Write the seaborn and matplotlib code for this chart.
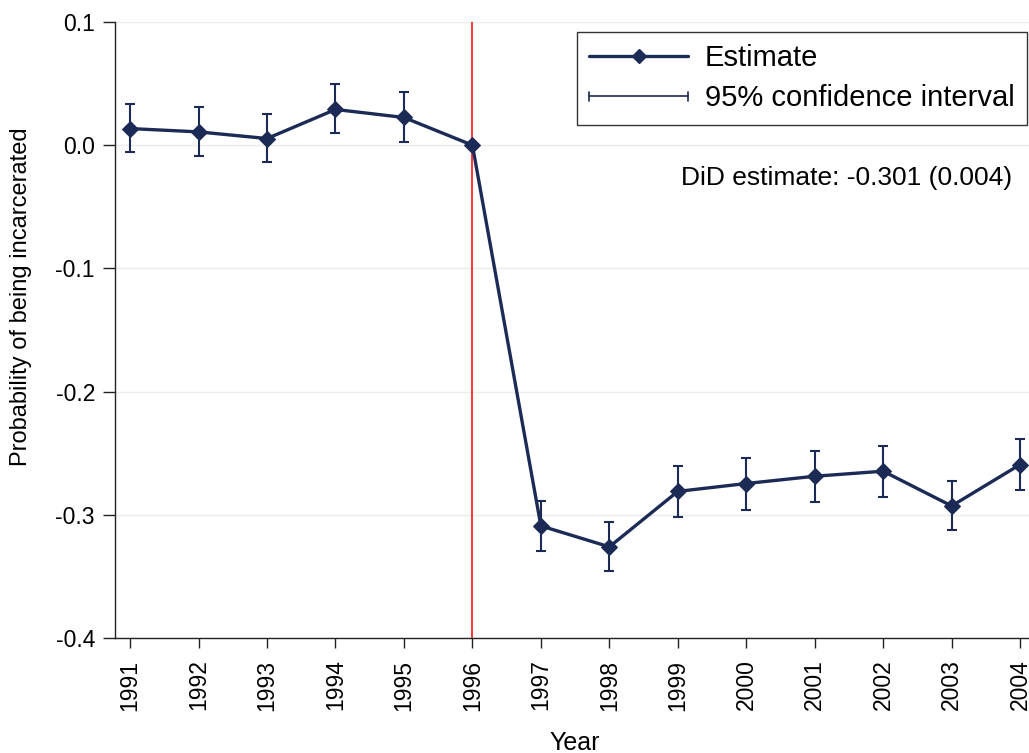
import matplotlib
matplotlib.use("Agg")
import matplotlib.pyplot as plt
import seaborn as sns
import pandas as pd
import numpy as np
from matplotlib.lines import Line2D
from matplotlib.legend_handler import HandlerBase

years = [1991, 1992, 1993, 1994, 1995, 1996, 1997, 1998, 1999, 2000, 2001, 2002, 2003, 2004]
estimate = [0.0135, 0.0108, 0.0054, 0.029, 0.0225, 0.0, -0.309, -0.326, -0.281, -0.2746, -0.2687, -0.2646, -0.2928, -0.2592]
ci_upper = [0.0333, 0.0306, 0.0252, 0.0495, 0.0428, 0.0, -0.289, -0.306, -0.260, -0.2538, -0.2484, -0.2443, -0.2725, -0.2386]
ci_lower = [-0.0057, -0.0084, -0.0135, 0.0097, 0.0027, 0.0, -0.3293, -0.346, -0.3014, -0.2957, -0.2895, -0.2852, -0.3125, -0.2795]
y_ticks = [0.1, 0.0, -0.1, -0.2, -0.3, -0.4]
y_ticklabels = ["0.1", "0.0", "-0.1", "-0.2", "-0.3", "-0.4"]
event_year = 1996
did_text = "DiD estimate: -0.301 (0.004)"

navy = "#1c2b55"

sns.set_theme(style="white")
plt.rcParams['font.family'] = ['Liberation Sans', 'DejaVu Sans']
plt.rcParams['text.color'] = 'black'
plt.rcParams['axes.labelcolor'] = 'black'
plt.rcParams['xtick.color'] = 'black'
plt.rcParams['ytick.color'] = 'black'

df = pd.DataFrame({"Year": years, "Estimate": estimate, "lo": ci_lower, "hi": ci_upper})

fig = plt.figure(figsize=(10.29, 7.53), dpi=100)
ax = fig.add_axes([0.1118, 0.1527, 0.8882, 0.8181])

for yv in y_ticks:
    ax.axhline(yv, color="#ebebeb", lw=1.0, zorder=0)

ax.axvline(event_year, color="red", lw=1.1, zorder=1)

est = df["Estimate"].to_numpy()
yerr = np.vstack([est - df["lo"].to_numpy(), df["hi"].to_numpy() - est])
ax.errorbar(df["Year"], est, yerr=yerr, fmt="none", ecolor=navy, elinewidth=1.5,
            capsize=3.4, capthick=1.5, zorder=2)
sns.lineplot(data=df, x="Year", y="Estimate", ax=ax, color=navy, lw=2.4,
             marker="D", markersize=8, markeredgecolor=navy, zorder=3)

ax.set_xlim(1990.78, 2004.13)
ax.set_ylim(-0.4, 0.1)
ax.set_xticks(years)
ax.set_xticklabels([str(y) for y in years], rotation=90, fontsize=16.5)
ax.set_yticks(y_ticks)
ax.set_yticklabels(y_ticklabels, fontsize=16.5)
ax.tick_params(axis="x", direction="out", length=7.5, width=1.0, color="#222222", pad=8, bottom=True)
ax.tick_params(axis="y", direction="out", length=8.5, width=1.0, color="#222222", pad=6, left=True)
for s in ["top", "right"]:
    ax.spines[s].set_visible(False)
for s in ["left", "bottom"]:
    ax.spines[s].set_color("#222222")
    ax.spines[s].set_linewidth(1.0)

ax.set_xlabel("Year", fontsize=18, va="baseline")
ax.xaxis.set_label_coords(0.5025, -0.1818)
ax.set_ylabel("Probability of being incarcerated", fontsize=17, va="center")
ax.yaxis.set_label_coords(-0.1028, 0.5536)

ax.text(0.9814, 0.7468, did_text, transform=ax.transAxes,
        ha="right", va="center", fontsize=19)


class CIHandler(HandlerBase):
    def create_artists(self, legend, orig_handle, xdescent, ydescent, width, height, fontsize, trans):
        y = height / 2 - ydescent
        x0, x1 = -xdescent, -xdescent + width
        h = height * 0.22
        line = Line2D([x0, x1], [y, y], color=navy, lw=1.2, transform=trans)
        c1 = Line2D([x0, x0], [y - h, y + h], color=navy, lw=1.2, transform=trans)
        c2 = Line2D([x1, x1], [y - h, y + h], color=navy, lw=1.2, transform=trans)
        return [line, c1, c2]


est_handle = Line2D([], [], color=navy, lw=2.4, marker="D", markersize=7)
ci_handle = object()
leg = ax.legend([est_handle, ci_handle], ["Estimate", "95% confidence interval"],
                handler_map={object: CIHandler()}, loc="upper right",
                bbox_to_anchor=(0.9978, 0.9838), fontsize=21, frameon=True,
                fancybox=False, edgecolor="black", handlelength=3.39, handletextpad=0.58,
                borderpad=0.42, labelspacing=0.42, borderaxespad=0.0)
leg.get_frame().set_linewidth(1.0)

fig.savefig("out.png", dpi=100)
